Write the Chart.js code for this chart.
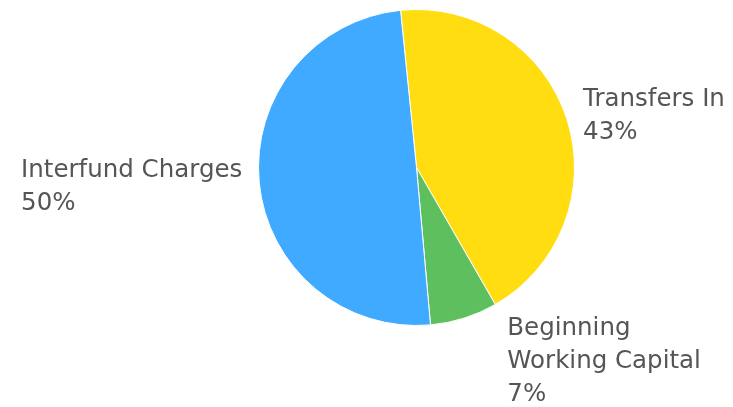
<!DOCTYPE html>
<html>
<head>
<meta charset="utf-8">
<script src="https://cdn.jsdelivr.net/npm/chart.js@4.4.0/dist/chart.umd.min.js"></script>
<style>
    html, body { margin: 0; padding: 0; background: #ffffff; }
    #area { width: 733px; height: 407px; }
</style>
</head>
<body>
<div id="area"><canvas id="chartFontes"></canvas></div>
<script>

// Dados do gráfico
var categorias = ["Transfers In", "Beginning Working Capital", "Interfund Charges"];
var linhasRotulo = [["Transfers In"], ["Beginning", "Working Capital"], ["Interfund Charges"]];
var valores = [43.3, 6.9, 49.8];
var cores = ["#FFDD11", "#5EBF5F", "#3FAAFF"];

// Plugin que escreve os rótulos (nome + %) do lado de fora da pizza
var rotulosExternos = {
    id: "rotulosExternos",
    afterDatasetsDraw: function (chart) {
        var ctx = chart.ctx;
        var meta = chart.getDatasetMeta(0);
        var total = valores.reduce(function (a, b) { return a + b; }, 0);
        var tamanho = 24.5;
        var alturaLinha = 33;
        var alturaMaiuscula = tamanho * 0.73;
        var descida = tamanho * 0.24;
        var folga = 17;

        ctx.save();
        ctx.font = tamanho + "px 'DejaVu Sans', sans-serif";
        ctx.fillStyle = "#555555";
        ctx.textBaseline = "alphabetic";
        ctx.textAlign = "left";

        meta.data.forEach(function (arco, i) {
            var p = arco.getProps(["x", "y", "startAngle", "endAngle", "outerRadius"], true);
            var linhas = linhasRotulo[i].concat([Math.round(valores[i] / total * 100) + "%"]);
            var largura = Math.max.apply(null, linhas.map(function (l) { return ctx.measureText(l).width; }));
            var altura = (linhas.length - 1) * alturaLinha + alturaMaiuscula;
            var D = p.outerRadius + folga;
            var a = Math.atan2(Math.sin((p.startAngle + p.endAngle) / 2), Math.cos((p.startAngle + p.endAngle) / 2));
            // se o rótulo não couber, ele desliza pela borda em direção à horizontal
            var passo = 0.005 * (Math.sin(a) >= 0 ? 1 : -1) * (Math.cos(a) >= 0 ? -1 : 1);

            var esquerda, topo;
            for (var k = 0; k < 400; k++) {
                var px = p.x + D * Math.cos(a);
                var py = p.y + D * Math.sin(a);
                esquerda = Math.cos(a) >= 0 ? px : px - largura;
                if (Math.sin(a) > 0.7) topo = py;
                else if (Math.sin(a) < -0.7) topo = py - altura;
                else topo = py - altura / 2;
                var cabe = topo >= 0 && topo + altura + descida <= chart.height &&
                    esquerda >= 0 && esquerda + largura <= chart.width;
                if (cabe) break;
                a += passo;
            }

            linhas.forEach(function (linha, j) {
                ctx.fillText(linha, esquerda, topo + alturaMaiuscula + j * alturaLinha);
            });
        });
        ctx.restore();
    }
};

var config = {
    type: "pie",
    data: {
        labels: categorias,
        datasets: [
            {
                data: valores,
                backgroundColor: cores,
                borderColor: "#ffffff",
                borderWidth: 1
            }
        ]
    },
    options: {
        responsive: true,
        maintainAspectRatio: false,
        animation: false,
        rotation: -5.8,
        layout: {
            padding: { top: 9, bottom: 81, left: 258, right: 158 }
        },
        plugins: {
            legend: { display: false },
            tooltip: { enabled: false }
        }
    },
    plugins: [rotulosExternos]
};

var graficoPizza = new Chart(document.getElementById("chartFontes"), config);
</script>
</body>
</html>
